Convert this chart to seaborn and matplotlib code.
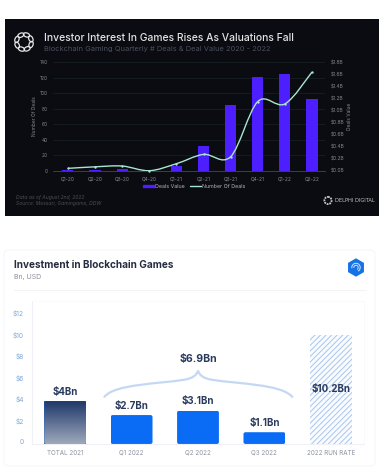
import numpy as np
import matplotlib
matplotlib.use("Agg")
import matplotlib.pyplot as plt
import seaborn as sns
from matplotlib.lines import Line2D
from matplotlib.patches import Circle, Ellipse, FancyBboxPatch, Patch, PathPatch, RegularPolygon, Arc
from matplotlib.path import Path
from matplotlib.transforms import ScaledTranslation

W, H = 388, 472

quarters = ["Q1-20", "Q2-20", "Q3-20", "Q4-20", "Q1-21", "Q2-21", "Q3-21", "Q4-21", "Q1-22", "Q2-22"]
deal_value = [0.01, 0.01, 0.03, 0.0, 0.08, 0.41, 1.08, 1.55, 1.60, 1.19]
deal_count = [3, 5, 6, 0, 9, 21, 18, 89, 86, 127]
count_ticks = [0, 20, 40, 60, 80, 100, 120, 140]
value_ticks = [0.0, 0.2, 0.4, 0.6, 0.8, 1.0, 1.2, 1.4, 1.6, 1.8]

periods = ["TOTAL 2021", "Q1 2022", "Q2 2022", "Q3 2022", "2022 RUN RATE"]
investment = [4.0, 2.7, 3.1, 1.1, 10.2]
investment_labels = ["$4Bn", "$2.7Bn", "$3.1Bn", "$1.1Bn", "$10.2Bn"]
usd_ticks = [0, 2, 4, 6, 8, 10, 12]
usd_labels = ["0", "$2", "$4", "$6", "$8", "$10", "$12"]

sns.set_theme(style="white")
plt.rcParams["font.family"] = ["Inter", "DejaVu Sans"]
plt.rcParams["hatch.linewidth"] = 0.7

DARK = "#0b0b12"
PURPLE = "#4d1fff"
MINT = "#a8e6cf"
NAVY = "#2b3b5e"


def rect(l, t, r, b):
    return [l / W, 1 - b / H, (r - l) / W, (b - t) / H]


def smooth_path(xs, ys):
    # catmull-rom through the data points, as bezier segments
    pts = np.column_stack([xs, ys]).astype(float)
    verts = [pts[0]]
    codes = [Path.MOVETO]
    for i in range(len(pts) - 1):
        p0 = pts[max(i - 1, 0)]
        p1 = pts[i]
        p2 = pts[i + 1]
        p3 = pts[min(i + 2, len(pts) - 1)]
        verts += [p1 + (p2 - p0) / 6, p2 - (p3 - p1) / 6, p2]
        codes += [Path.CURVE4] * 3
    return Path(verts, codes)


fig = plt.figure(figsize=(W / 100, H / 100), dpi=100, facecolor="white")

# full figure layer in pixel coordinates for panels, logos and headings
bg = fig.add_axes([0, 0, 1, 1], zorder=0)
bg.set_xlim(0, W)
bg.set_ylim(H, 0)
bg.axis("off")

bg.add_patch(plt.Rectangle((5, 19), 374, 197, color=DARK, lw=0))
bg.add_patch(FancyBboxPatch((4, 250), 371, 216, boxstyle="round,pad=0,rounding_size=5",
                            fc="white", ec="#f6f7f9", lw=0.8))
bg.plot([14, 366], [290, 290], color="#f1f3f6", lw=0.8)

# dao style ring logo
for a in np.arange(0, 360, 45):
    cx = 24 + 7.5 * np.cos(np.radians(a + 20))
    cy = 42 + 7.5 * np.sin(np.radians(a + 20))
    bg.add_patch(Ellipse((cx, cy), 6.5, 4, angle=a + 110, fc="none", ec="#e6e6e6", lw=0.9))

bg.text(44, 38, "Investor Interest In Games Rises As Valuations Fall",
        color="#e4e4e6", fontsize=7.45, fontweight="medium", va="center")
bg.text(44, 48.5, "Blockchain Gaming Quarterly # Deals & Deal Value 2020 - 2022",
        color="#4c505c", fontsize=5.4, va="center")
bg.text(16, 198, "Data as of August 2nd, 2022", color="#4a4d55", fontsize=3.6, style="italic", va="center")
bg.text(16, 204, "Source: Messari, Gamingame, DDW", color="#4a4d55", fontsize=3.6, style="italic", va="center")
bg.add_patch(Circle((328, 200.5), 3.6, fc="none", ec="#c9c9c9", lw=1.3, ls=(0, (1, 0.5))))
bg.text(335, 201, "DELPHI DIGITAL", color="#c4c4c4", fontsize=3.7, va="center", family="DejaVu Sans")

bg.text(14, 265.5, "Investment in Blockchain Games", color="#252c40", fontsize=7.2,
        fontweight="bold", va="center")
bg.text(14, 277.5, "Bn, USD", color="#8a8f99", fontsize=5, va="center")
bg.add_patch(RegularPolygon((356, 267.5), 6, radius=9.2, fc="#1673e6", ec="none"))
for r in [2.2, 4.2]:
    bg.add_patch(Arc((356, 267.5), r * 2, r * 2, theta1=170, theta2=60, ec="#cfe4ff", lw=0.7))

# top chart: deal value bars on the right axis, deal count line on the left
ax_val = fig.add_axes(rect(53, 62, 325, 170.7), zorder=1)
ax_val.patch.set_alpha(0)
sns.barplot(x=quarters, y=deal_value, color=PURPLE, saturation=1, width=0.41, linewidth=0, ax=ax_val)
ax_val.set_xlim(-0.55, 9.48)
ax_val.set_ylim(0, 1.8)
ax_val.yaxis.tick_right()
ax_val.set_yticks(value_ticks)
ax_val.set_yticklabels([f"${v:.1f}B" for v in value_ticks])
ax_val.yaxis.set_label_position("right")
ax_val.set_ylabel("Deals Value", fontsize=3.5, color="#85858c", labelpad=2)
ax_val.tick_params(axis="y", length=0, labelsize=3.5, labelcolor="#85858c", pad=4)
ax_val.tick_params(axis="x", length=1.5, width=0.4, color="#555", labelsize=3.5, labelcolor="#85858c", pad=2.5)
sns.despine(ax=ax_val, left=True, right=True, top=True)
ax_val.spines["bottom"].set_color("#50545a")
ax_val.spines["bottom"].set_linewidth(0.5)

ax_cnt = fig.add_axes(rect(53, 62, 325, 170.7), zorder=2)
ax_cnt.patch.set_alpha(0)
ax_cnt.set_xlim(-0.55, 9.48)
ax_cnt.set_ylim(0, 140)
ax_cnt.set_xticks([])
ax_cnt.set_yticks(count_ticks)
ax_cnt.set_yticklabels([str(v) for v in count_ticks])
ax_cnt.set_ylabel("Number Of Deals", fontsize=3.5, color="#85858c", labelpad=2)
ax_cnt.tick_params(axis="y", length=0, labelsize=3.5, labelcolor="#85858c", pad=4)
sns.despine(ax=ax_cnt, left=True, right=True, top=True, bottom=True)
ax_cnt.add_patch(PathPatch(smooth_path(np.arange(len(deal_count)), deal_count),
                           fc="none", ec=MINT, lw=1))
sns.scatterplot(x=np.arange(len(deal_count)), y=deal_count, color=MINT, s=3, linewidth=0,
                clip_on=False, ax=ax_cnt)
for v in count_ticks[1:]:
    ax_val.axhline(v / 140 * 1.8, color="#182325", lw=0.5, zorder=0)

ax_cnt.legend(handles=[Patch(color=PURPLE, label="Deals Value"),
                       Line2D([0], [0], color=MINT, lw=1, label="Number Of Deals")],
              loc="center", bbox_to_anchor=(0.52, -0.145), ncol=2, frameon=False, fontsize=3.8,
              labelcolor="#b0b0b6", handlelength=2.0, handleheight=0.4, columnspacing=1, handletextpad=0.3)

# bottom chart
ax = fig.add_axes(rect(32, 301, 364, 444), zorder=1)
ax.patch.set_alpha(0)
sns.barplot(x=periods, y=investment, color="#0a6cf5", saturation=1, width=0.63, linewidth=0, ax=ax)
ax.set_xlim(-0.5, 4.5)
ax.set_ylim(0, 13.34)
ax.set_yticks(usd_ticks)
ax.set_yticklabels(usd_labels)
ax.tick_params(axis="y", length=0, labelsize=4.8, labelcolor="#7fa8de", pad=6)
ax.tick_params(axis="x", length=0, labelsize=4.5, labelcolor="#8c93a0", pad=4)
shift = ScaledTranslation(0, 2.3 / 100, fig.dpi_scale_trans)
for lab in ax.get_yticklabels():
    lab.set_transform(lab.get_transform() + shift)
for side in ["top", "right"]:
    ax.spines[side].set_color("#f9fafc")
    ax.spines[side].set_linewidth(0.6)
for side in ["left", "bottom"]:
    ax.spines[side].set_color("#eef0f5")
    ax.spines[side].set_linewidth(0.8)

bars = ax.containers[0]
total_bar, run_bar = bars[0], bars[4]
run_bar.set_facecolor("#f8fbff")
run_bar.set_edgecolor("#a9c6ec")
run_bar.set_hatch("//////")
run_bar.set_linewidth(0)

# gradient on the 2021 bar
x0, w = total_bar.get_x(), total_bar.get_width()
grad = np.linspace(0, 1, 64)[:, None, None] * (np.array([0.62, 0.66, 0.73]) - np.array([0.12, 0.22, 0.42])) \
    + np.array([0.12, 0.22, 0.42])
img = ax.imshow(grad, extent=[x0, x0 + w, 0, total_bar.get_height()], aspect="auto", zorder=3, origin="upper")
ax.set_xlim(-0.5, 4.5)
ax.set_ylim(0, 13.34)


def rounded_clip(bar):
    return FancyBboxPatch((bar.get_x(), 0), bar.get_width(), bar.get_height(),
                          boxstyle="round,pad=0,rounding_size=0.03", mutation_aspect=6.3,
                          transform=ax.transData)


img.set_clip_path(rounded_clip(total_bar))
for bar in list(bars)[1:4]:
    bar.set_clip_path(rounded_clip(bar))

for i, (v, lab) in enumerate(zip(investment, investment_labels)):
    y = v / 2 if i == 4 else v
    off = 0 if i == 4 else 9.5
    ax.annotate(lab, (i, y), xytext=(0, off * 0.72), textcoords="offset points", ha="center", va="center",
                fontsize=7, fontweight="bold", color=NAVY, zorder=5)

# brace over the 2022 quarters
brace = Path(
    [(0.59, 4.4), (0.75, 5.6), (1.4, 5.6), (1.8, 6.0), (1.92, 6.15), (1.98, 6.4), (2.0, 6.85),
     (2.02, 6.4), (2.08, 6.15), (2.2, 6.0), (2.6, 5.6), (3.25, 5.6), (3.42, 4.4)],
    [Path.MOVETO] + [Path.CURVE4] * 12)
ax.add_patch(PathPatch(brace, fc="none", ec="#c5d8f3", lw=1.6, capstyle="round", zorder=2))
ax.text(2, 7.93, "$6.9Bn", ha="center", va="center", fontsize=7.6, fontweight="bold", color=NAVY)

fig.savefig("out.png", dpi=100)
